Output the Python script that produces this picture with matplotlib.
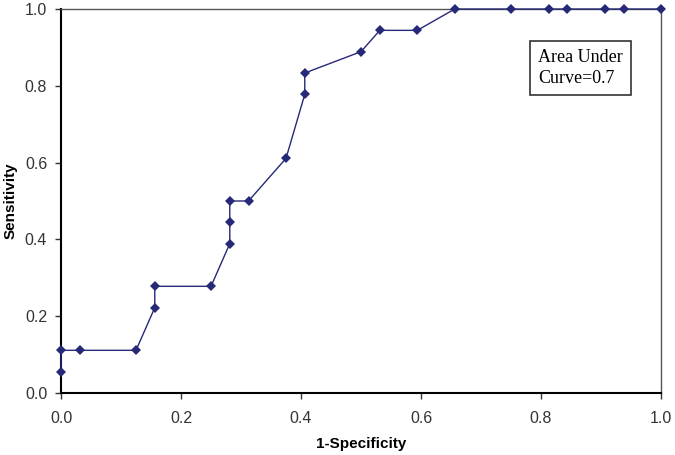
import matplotlib
matplotlib.use('Agg')
import matplotlib.pyplot as plt

# ROC curve points
fpr = [0.0, 0.0, 0.03125, 0.125, 0.15625, 0.15625, 0.25, 0.28125, 0.28125, 0.28125,
       0.3125, 0.375, 0.40625, 0.40625, 0.5, 0.53125, 0.59375, 0.65625, 0.75,
       0.8125, 0.84375, 0.90625, 0.9375, 1.0]
tpr = [0.0556, 0.1111, 0.1111, 0.1111, 0.2222, 0.2778, 0.2778, 0.3889, 0.4444, 0.5,
       0.5, 0.6111, 0.7778, 0.8333, 0.8889, 0.9444, 0.9444, 1.0, 1.0,
       1.0, 1.0, 1.0, 1.0, 1.0]
ticks = [0.0, 0.2, 0.4, 0.6, 0.8, 1.0]

plt.rcParams['font.family'] = ['Liberation Sans', 'DejaVu Sans']

fig = plt.figure(figsize=(6.75, 4.55), dpi=100)
ax = fig.add_axes([0.0904, 0.1363, 0.8889, 0.8439])

ax.plot(fpr, tpr, color='#262878', lw=1.0, marker='D', markersize=5.2,
        markeredgewidth=0, clip_on=False, zorder=3)

ax.set_xlim(0, 1)
ax.set_ylim(0, 1)
ax.set_xticks(ticks)
ax.set_yticks(ticks)
ax.set_xticklabels(['%.1f' % t for t in ticks])
ax.set_yticklabels(['%.1f' % t for t in ticks])
ax.tick_params(direction='out', length=4, width=1, colors='#333333',
               labelsize=11.5, labelcolor='#333333')
ax.tick_params(axis='x', pad=9)
ax.tick_params(axis='y', pad=6)

for s in ['left', 'bottom']:
    ax.spines[s].set_color('black')
    ax.spines[s].set_linewidth(1.5)
for s in ['top', 'right']:
    ax.spines[s].set_color('#555555')
    ax.spines[s].set_linewidth(1.0)

ax.set_xlabel('1-Specificity', fontsize=11, fontweight='bold', labelpad=8)
ax.set_ylabel('Sensitivity', fontsize=11, fontweight='bold')
ax.yaxis.set_label_coords(-0.072, 0.5)

ax.text(0.795, 0.895, 'Area Under\nCurve=0.7', transform=ax.transAxes,
        fontsize=13, family='Liberation Serif', va='top', ha='left',
        linespacing=1.25,
        bbox=dict(boxstyle='square,pad=0.45', fc='white', ec='#333333', lw=1.2))

fig.savefig('out.png', dpi=100)
